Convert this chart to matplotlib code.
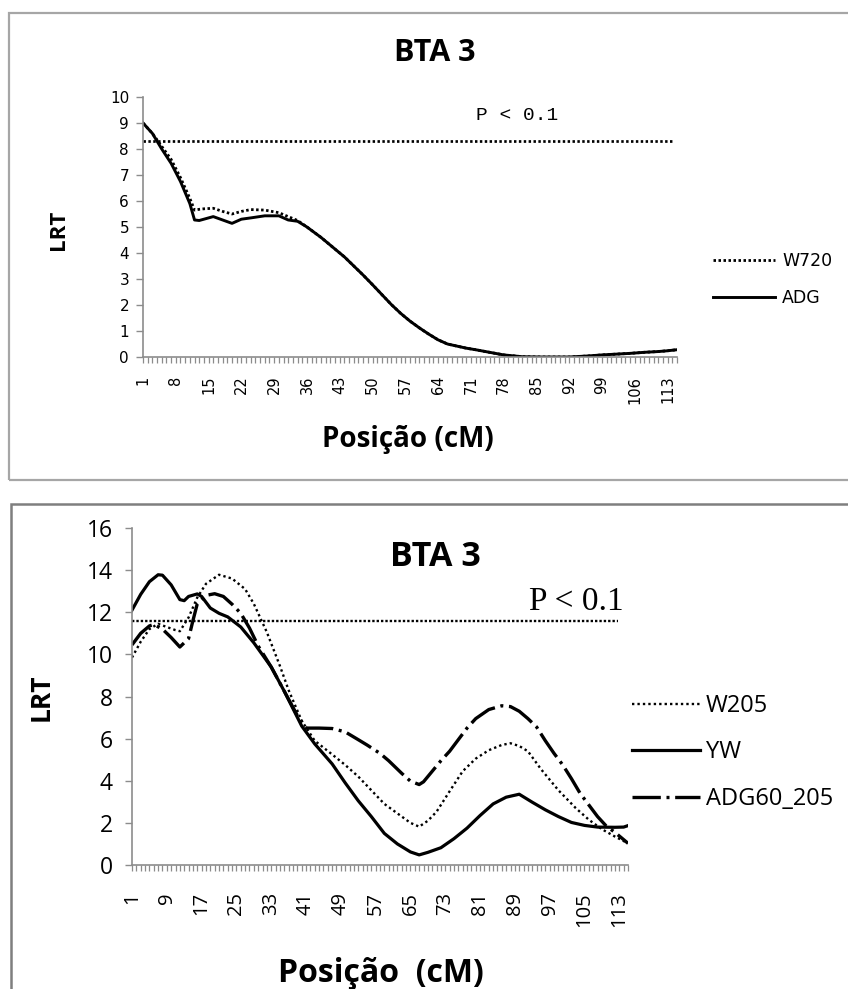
import numpy as np
import matplotlib as mpl
mpl.use("Agg")
import matplotlib.pyplot as plt
from matplotlib.patches import Rectangle

W, H = 848, 989
AXIS_GRAY = "#8c8c8c"
BOX_GRAY = "#a6a6a6"
SANS = "Open Sans"

# ---- top chart: W720 / ADG (positions in cM, LRT values) -------------------
top_pos = [1, 3, 5, 7, 9, 11, 12, 13, 14, 16, 18, 20, 22, 24, 27, 30, 32, 34,
           36, 39, 42, 44, 46, 48, 50, 52, 54, 56, 58, 60, 62, 64, 66, 68, 70,
           72, 75, 78, 82, 86, 92, 96, 99, 102, 105, 108, 111, 113, 115]
adg = [9.0, 8.6, 8.0, 7.45, 6.75, 5.9, 5.27, 5.25, 5.3, 5.4, 5.27, 5.14, 5.3,
       5.35, 5.43, 5.43, 5.27, 5.22, 5.0, 4.6, 4.15, 3.85, 3.5, 3.15, 2.78, 2.4,
       2.02, 1.68, 1.38, 1.12, 0.88, 0.66, 0.5, 0.42, 0.34, 0.28, 0.18, 0.08,
       0.01, 0.0, 0.0, 0.04, 0.08, 0.11, 0.14, 0.18, 0.21, 0.24, 0.28]
w720 = [9.0, 8.6, 8.1, 7.6, 6.9, 6.1, 5.65, 5.68, 5.7, 5.72, 5.6, 5.5, 5.6,
        5.67, 5.65, 5.55, 5.4, 5.25, 5.0, 4.6, 4.15, 3.85, 3.5, 3.15, 2.78, 2.4,
        2.02, 1.68, 1.38, 1.12, 0.88, 0.66, 0.5, 0.42, 0.34, 0.28, 0.18, 0.08,
        0.01, 0.0, 0.0, 0.04, 0.08, 0.11, 0.14, 0.18, 0.21, 0.24, 0.28]
top_thresh = 8.3
top_xlabels = list(range(1, 116, 7))

# ---- bottom chart: W205 / YW / ADG60_205 -----------------------------------
yw_pos = [1, 3, 5, 7, 8, 10, 12, 13, 14, 16, 17, 19, 21, 23, 26, 29, 33, 36,
          40, 43, 47, 50, 53, 56, 59, 62, 65, 67, 69, 72, 75, 78, 81, 84, 87,
          90, 93, 96, 99, 102, 105, 108, 112, 114, 115]
yw = [12.1, 12.85, 13.45, 13.78, 13.76, 13.3, 12.6, 12.55, 12.75, 12.87, 12.75,
      12.2, 11.95, 11.78, 11.3, 10.55, 9.4, 8.25, 6.6, 5.75, 4.8, 3.9, 3.05,
      2.3, 1.5, 1.0, 0.62, 0.48, 0.6, 0.82, 1.25, 1.75, 2.35, 2.9, 3.22, 3.36,
      2.98, 2.62, 2.3, 2.02, 1.88, 1.8, 1.79, 1.8, 1.87]

w205_pos = [1, 3, 5, 7, 9, 11, 12, 14, 16, 18, 21, 24, 27, 29, 32, 35, 37, 40,
            43, 47, 50, 53, 56, 59, 62, 65, 67, 69, 71, 74, 77, 80, 83, 86, 88,
            90, 92, 95, 99, 103, 106, 109, 112, 115]
w205 = [9.85, 10.6, 11.2, 11.45, 11.3, 11.15, 11.1, 11.75, 12.7, 13.35, 13.78,
        13.6, 13.1, 12.4, 11.05, 9.45, 8.3, 6.85, 5.9, 5.25, 4.75, 4.2, 3.55,
        2.9, 2.45, 2.0, 1.82, 2.1, 2.53, 3.5, 4.45, 5.05, 5.45, 5.7, 5.78, 5.65,
        5.4, 4.55, 3.55, 2.7, 2.15, 1.7, 1.35, 1.03]

adg60_pos = [1, 3, 5, 6, 8, 10, 12, 14, 15, 16, 18, 20, 22, 24, 26, 28, 30, 33,
             36, 39, 41, 44, 47, 50, 53, 55, 58, 60, 63, 65, 67, 68, 70, 72, 74,
             76, 78, 80, 83, 86, 88, 90, 92, 94, 96, 98, 100, 102, 104, 106,
             108, 110, 112, 115]
adg60 = [10.45, 11.0, 11.35, 11.42, 11.2, 10.8, 10.35, 10.75, 11.6, 12.4, 12.8,
         12.88, 12.75, 12.38, 11.95, 11.25, 10.4, 9.4, 8.25, 7.1, 6.5, 6.5,
         6.48, 6.32, 5.95, 5.7, 5.3, 4.95, 4.35, 3.98, 3.82, 3.95, 4.45, 4.95,
         5.4, 5.95, 6.5, 6.95, 7.38, 7.56, 7.52, 7.3, 6.95, 6.55, 5.9, 5.3,
         4.75, 4.1, 3.4, 2.85, 2.3, 1.85, 1.55, 1.03]
bot_thresh = 11.6
bot_xlabels = list(range(1, 116, 8))

N_CAT = 115


def px(x, y):
    """pixel position (from top-left) -> figure fraction"""
    return x / W, 1 - y / H


def style_axes(ax, xlabels, tick_font, ytick_size, xtick_size, xpad, ypad):
    for s in ("top", "right"):
        ax.spines[s].set_visible(False)
    for s in ("left", "bottom"):
        ax.spines[s].set_color(AXIS_GRAY)
        ax.spines[s].set_linewidth(1.2)
    ax.set_xlim(1, N_CAT)
    ax.set_xticks(range(1, N_CAT + 1))
    ax.set_xticklabels([str(i) if i in xlabels else "" for i in range(1, N_CAT + 1)],
                       rotation=90, fontsize=xtick_size, family=tick_font)
    ax.tick_params(axis="x", direction="out", length=4.5, width=0.9,
                   color=AXIS_GRAY, pad=xpad)
    ax.tick_params(axis="y", direction="out", length=5, width=1.0,
                   color=AXIS_GRAY, pad=ypad, labelsize=ytick_size)
    for t in ax.get_yticklabels():
        t.set_family(tick_font)


def legend_at(ax, x0, row_ys, family, size, handlelength, handletextpad):
    """legend whose rows are centred on the given pixel rows (from the top)"""
    opts = dict(loc="upper left", bbox_transform=fig.transFigure, frameon=False,
                borderpad=0, borderaxespad=0, handlelength=handlelength,
                handletextpad=handletextpad, prop={"family": family, "size": size})
    leg = ax.legend(bbox_to_anchor=px(x0, row_ys[0]), labelspacing=0.5, **opts)
    fig.canvas.draw()
    r = fig.canvas.get_renderer()
    ys = [H - 0.5 * (e.y0 + e.y1) for e in (t.get_window_extent(r) for t in leg.get_texts())]
    fs_px = size * 100 / 72
    want = (row_ys[-1] - row_ys[0]) / (len(row_ys) - 1)
    have = (ys[-1] - ys[0]) / (len(ys) - 1)
    spacing = 0.5 + (want - have) / fs_px
    top = row_ys[0] - (ys[0] - row_ys[0])
    leg.remove()
    return ax.legend(bbox_to_anchor=px(x0, top), labelspacing=spacing, **opts)


fig = plt.figure(figsize=(W / 100, H / 100), dpi=100)

# frames around the two pasted charts
fig.add_artist(Rectangle(px(9, 480), 1.0, 467 / H, transform=fig.transFigure,
                         fill=False, edgecolor=BOX_GRAY, lw=1.6))
fig.add_artist(Rectangle(px(11, 1200), 1.0, 696 / H, transform=fig.transFigure,
                         fill=False, edgecolor="#7f7f7f", lw=1.8))

# ---------------- top chart ----------------
l, b = px(143, 357)
ax1 = fig.add_axes([l, b, 534 / W, 260 / H])
ax1.plot(top_pos, w720, color="black", lw=2.0, ls=(0, (0.9, 0.9)), label="W720")
ax1.plot(top_pos, adg, color="black", lw=2.1, label="ADG")
ax1.axhline(top_thresh, xmax=0.995, color="black", lw=1.95, ls=(0, (0.9, 0.9)))
ax1.set_ylim(0, 10)
ax1.set_yticks(range(0, 11))
style_axes(ax1, top_xlabels, "DejaVu Sans", 11, 10.5, 9, 5)

fig.text(*px(517, 116), "P < 0.1", family="Liberation Mono", fontsize=14,
         ha="center", va="center")
fig.text(*px(435, 53), "BTA 3", family=SANS, fontweight="bold", fontsize=22,
         ha="center", va="center")
fig.text(*px(59, 230), "LRT", family=SANS, fontweight="bold", fontsize=16,
         ha="center", va="center", rotation=90)
fig.text(*px(408, 440), "Posição (cM)", family=SANS, fontweight="bold", fontsize=20,
         ha="center", va="center")

# ---------------- bottom chart ----------------
l, b = px(132, 865)
ax2 = fig.add_axes([l, b, 496 / W, 337 / H])
ax2.plot(w205_pos, w205, color="black", lw=1.7, ls=(0, (1.0, 1.3)), label="W205")
ax2.plot(yw_pos, yw, color="black", lw=2.3, label="YW")
ax2.plot(adg60_pos, adg60, color="black", lw=2.4, ls=(0, (8.5, 1.7, 0.9, 1.7)),
         label="ADG60_205")
ax2.plot([1, 112.7], [bot_thresh, bot_thresh], color="black", lw=1.7,
         ls=(0, (1.0, 0.85)))
ax2.set_ylim(0, 16)
ax2.set_yticks(range(0, 17, 2))
style_axes(ax2, bot_xlabels, SANS, 16.5, 14.5, 15, 9)

fig.text(*px(576, 602), "P < 0.1", family="Liberation Serif", fontsize=24,
         ha="center", va="center")
fig.text(*px(435, 557), "BTA 3", family=SANS, fontweight="bold", fontsize=24.5,
         ha="center", va="center")
fig.text(*px(41, 697), "LRT", family=SANS, fontweight="bold", fontsize=19,
         ha="center", va="center", rotation=90)
fig.text(*px(381, 973), "Posição  (cM)", family=SANS, fontweight="bold", fontsize=23,
         ha="center", va="center")

# legends, placed on the measured rows
legend_at(ax1, 713, [261, 298], "DejaVu Sans", 12.5, 3.57, 0.4)
legend_at(ax2, 632, [706, 753, 799], SANS, 17, 2.9, 0.22)

fig.savefig("out.png", dpi=100, facecolor="white")
